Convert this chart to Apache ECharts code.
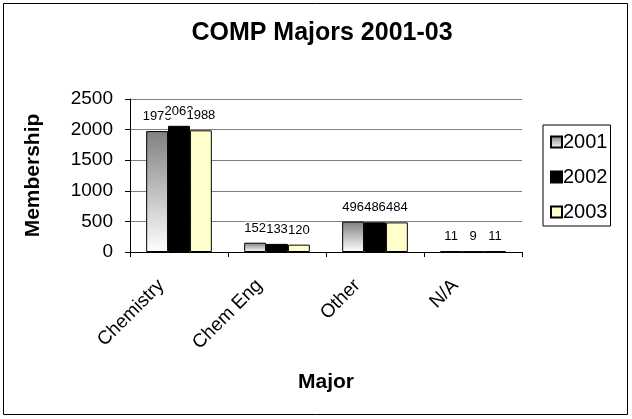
<!DOCTYPE html>
<html><head><meta charset="utf-8">
<script src="https://cdn.jsdelivr.net/npm/echarts@6/dist/echarts.min.js"></script>
<style>html,body{margin:0;padding:0;background:#fff}#c{width:632px;height:419px}</style>
</head><body><div id="c"></div>
<script>
const categories = ['Chemistry', 'Chem Eng', 'Other', 'N/A'];
const years = ['2001', '2002', '2003'];
const v2001 = [1976, 152, 496, 11];
const v2002 = [2062, 133, 486, 9];
const v2003 = [1988, 120, 484, 11];
const yTicks = [0, 500, 1000, 1500, 2000, 2500];

const font = 'Liberation Sans, Arial, sans-serif';
const fills = [
  {type:'linear',x:0,y:0,x2:0,y2:1,colorStops:[{offset:0,color:'#808080'},{offset:1,color:'#ffffff'}]},
  '#000000',
  '#FFFFCC'
];
const data = [v2001, v2002, v2003];
const chart = echarts.init(document.getElementById('c'), null, {renderer:'canvas'});
chart.setOption({
  animation:false,
  textStyle:{fontFamily:font},
  graphic:[{type:'rect',shape:{x:3.5,y:3.5,width:624,height:411},style:{fill:'none',stroke:'#000',lineWidth:1},z:-1}],
  title:{text:'COMP Majors 2001-03',left:317,top:16,textAlign:'center',textStyle:{fontFamily:font,fontSize:25,fontWeight:'bold',color:'#000'}},
  legend:{
    orient:'vertical',left:543,top:125,
    padding:[7,3,4,7],itemGap:15,
    borderColor:'#000',borderWidth:1,
    itemWidth:11,itemHeight:11,
    icon:'rect',
    textStyle:{fontFamily:font,fontSize:20,color:'#000',padding:[0,0,0,-4]},
    data:years
  },
  grid:{left:130,right:110,top:99,bottom:167,containLabel:false},
  xAxis:{
    type:'category',data:categories,
    name:'Major',nameLocation:'middle',nameGap:120,
    nameTextStyle:{fontFamily:font,fontSize:21,fontWeight:'bold',color:'#000'},
    axisLine:{lineStyle:{color:'#000',width:1}},
    axisTick:{show:true,alignWithLabel:false,length:5,lineStyle:{color:'#000'}},
    axisLabel:{rotate:45,fontFamily:font,fontSize:19,color:'#000',margin:13,interval:0,padding:[0,25,0,0]}
  },
  yAxis:{
    type:'value',min:0,max:2500,interval:500,
    name:'Membership',nameLocation:'middle',nameGap:86,
    nameTextStyle:{fontFamily:font,fontSize:21,fontWeight:'bold',color:'#000'},
    axisLine:{show:true,lineStyle:{color:'#000',width:1}},
    axisTick:{show:true,inside:false,length:5,lineStyle:{color:'#000'}},
    splitLine:{show:true,lineStyle:{color:'#808080',width:1}},
    axisLabel:{fontFamily:font,fontSize:19,color:'#000',margin:17,
      formatter:function(v){return yTicks.indexOf(v)>=0?String(v):'';}}
  },
  series: years.map((y,i)=>({
    name:y,type:'bar',data:data[i],
    barGap:'0%',barCategoryGap:'33%',
    itemStyle:{color:fills[i],borderColor:'#000',borderWidth:1},
    label:{show:true,position:'top',distance:8,fontFamily:font,fontSize:13,color:'#000',backgroundColor:'#fff',padding:[0,0,0,0]}
  }))
});
</script></body></html>
